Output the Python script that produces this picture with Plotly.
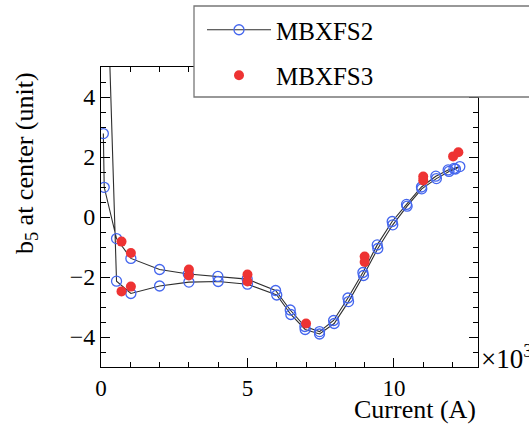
import plotly.graph_objects as go

# MBXFS2: hysteresis loop (ramp-up branch followed by ramp-down branch), current in kA
current_fs2 = [0.02, 0.53, 1.02, 2.0, 3.0, 4.0, 5.0, 6.0, 6.48, 6.97, 7.46, 7.96, 8.45, 8.96,
               9.45, 9.96, 10.45, 10.95, 11.45, 11.88, 12.1, 12.25,
               12.05, 11.85, 11.43, 10.94, 10.43, 9.94, 9.43, 8.94, 8.43, 7.94, 7.46, 6.96,
               6.46, 5.96, 4.99, 3.99, 2.98, 2.0, 1.02, 0.53, 0.11, 0.08]
b5_fs2 = [14.0, -2.14, -2.55, -2.3, -2.17, -2.15, -2.24, -2.6, -3.25, -3.75, -3.9, -3.55, -2.82, -1.95,
          -1.05, -0.26, 0.36, 0.94, 1.28, 1.52, 1.6, 1.68,
          1.62, 1.57, 1.36, 1.0, 0.42, -0.15, -0.93, -1.85, -2.7, -3.45, -3.82, -3.65,
          -3.1, -2.45, -2.07, -1.98, -1.9, -1.75, -1.38, -0.72, 0.99, 2.78]

# MBXFS3
current_fs3 = [0.7, 1.02, 0.7, 1.02, 3.0, 3.0, 5.0, 5.0, 7.0, 9.0, 9.0, 11.0, 11.0, 12.02, 12.2]
b5_fs3 = [-0.82, -1.2, -2.48, -2.32, -1.75, -1.95, -1.92, -2.15, -3.55, -1.32, -1.5, 1.22, 1.35, 2.02, 2.16]

x_ticks = [0, 5, 10]
y_ticks = [-4, -2, 0, 2, 4]

FONT = "Liberation Serif, Times New Roman, serif"

fig = go.Figure()
fig.add_trace(go.Scatter(
    x=current_fs2, y=b5_fs2, mode="lines+markers", name="MBXFS2", legendgroup="a",
    line=dict(color="#2e2e2e", width=1.1),
    marker=dict(symbol="circle-open", size=10, color="#4466ee", line=dict(width=1.3, color="#4466ee")),
))
fig.add_trace(go.Scatter(
    x=current_fs3, y=b5_fs3, mode="markers", name="MBXFS3", legendgroup="b",
    marker=dict(symbol="circle", size=10, color="#ee3333"),
))

L, R, T, B = 101, 51, 67, 61
W, H = 529, 428
pw, ph = W - L - R, H - T - B

def px_x(p):
    return (p - L) / pw

def px_y(p):
    return (H - B - p) / ph

axis_common = dict(
    showline=True, linecolor="black", linewidth=1, mirror="allticks",
    ticks="inside", ticklen=9, tickcolor="black", tickwidth=1,
    showgrid=False, zeroline=False,
    tickfont=dict(family=FONT, size=24, color="black"),
)

fig.update_xaxes(range=[0, 12.87], tickvals=x_ticks, ticktext=[str(v) for v in x_ticks],
                 minor=dict(dtick=1, tick0=0, ticks="inside", ticklen=5, tickcolor="black", showgrid=False),
                 ticklabelstandoff=0,
                 **axis_common)
fig.update_xaxes(tickfont=dict(family=FONT, size=23, color="black"))
fig.update_yaxes(range=[-5, 5], tickvals=y_ticks, ticktext=[("\u2212" + str(-v)) if v < 0 else str(v) for v in y_ticks],
                 minor=dict(dtick=0.5, tick0=0, ticks="inside", ticklen=5, tickcolor="black", showgrid=False),
                 **axis_common)

fig.add_shape(type="rect", xref="paper", yref="paper",
              x0=px_x(194), x1=px_x(545), y0=px_y(97), y1=px_y(6),
              line=dict(color="#777777", width=1.3), fillcolor="white", layer="above")

fig.add_annotation(text="Current (A)", xref="paper", yref="paper", x=1.0, y=px_y(409),
                   xanchor="right", yanchor="middle", showarrow=False,
                   font=dict(family=FONT, size=26, color="black"))
fig.add_annotation(text="b<sub>5</sub> at center (unit)", xref="paper", yref="paper",
                   x=px_x(26), y=px_y(163), xanchor="center", yanchor="middle", textangle=-90,
                   showarrow=False, font=dict(family=FONT, size=26, color="black"))
fig.add_annotation(text="\u00d710<sup>3</sup>", xref="paper", yref="paper", x=px_x(479), y=px_y(357),
                   xanchor="left", yanchor="middle", showarrow=False,
                   font=dict(family=FONT, size=27, color="black"))

fig.update_layout(
    width=W, height=H,
    margin=dict(l=L, r=R, t=T, b=B, autoexpand=False),
    font=dict(family=FONT, color="black"),
    paper_bgcolor="white", plot_bgcolor="white",
    showlegend=True,
    legend=dict(x=px_x(202), y=px_y(7), xanchor="left", yanchor="top",
                bgcolor="rgba(0,0,0,0)", borderwidth=0, itemwidth=64,
                traceorder="grouped", tracegroupgap=10,
                font=dict(family=FONT, size=25, color="black")),
)

fig.write_html("out.html", config={"displayModeBar": False},
               post_script="document.body.style.margin='0';")
